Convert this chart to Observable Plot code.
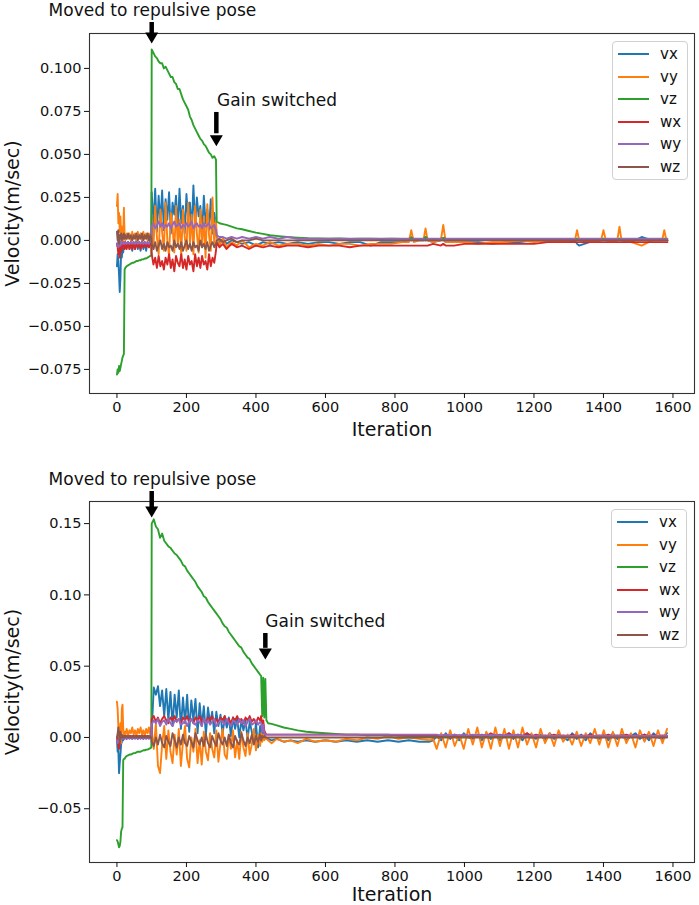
<!DOCTYPE html>
<html>
<head>
<meta charset="utf-8">
<script src="https://cdn.jsdelivr.net/npm/d3@7"></script>
<script src="https://cdn.jsdelivr.net/npm/@observablehq/plot@0.6"></script>
<style>
  html, body { margin: 0; padding: 0; background: #fff; overflow: hidden; }
  #wrap { position: relative; width: 699px; height: 905px; font-family: "DejaVu Sans", sans-serif; }
  .legend { position: absolute; border: 1px solid #d0d0d0; border-radius: 4px; background: rgba(255,255,255,0.85); box-sizing: border-box; }
  .legend .row { position: absolute; left: 0; height: 0; }
  .legend .sw { position: absolute; left: 5px; width: 31px; height: 2px; top: -1px; }
  .legend .lb { position: absolute; left: 47px; top: -10px; font-size: 15px; line-height: 20px; color: #111; }
</style>
</head>
<body>
<div id="wrap"></div>
<script>
// ---------- DATA (velocities in units of 0.001 m/sec) ----------
const seriesNames = ["vx", "vy", "vz", "wx", "wy", "wz"];
const seriesColors = ["#1f77b4", "#ff7f0e", "#2ca02c", "#d62728", "#9467bd", "#8c564b"];
const xTicks = [0, 200, 400, 600, 800, 1000, 1200, 1400, 1600];

// Top panel
const itTop = [
0,2,4,6,8,10,12,14,16,18,
20,22,24,28,32,36,40,44,48,52,
56,60,64,68,72,76,80,84,88,92,
96,99,
100,105,110,115,120,125,130,135,140,145,
150,155,160,165,170,175,180,185,190,195,
200,205,210,215,220,225,230,235,240,245,
250,255,260,265,270,275,280,285,
287,295,305,315,330,345,360,380,400,420,
440,465,490,520,550,580,610,640,670,700,
730,760,790,820,840,847,854,870,882,888,
894,910,932,939,946,970,1000,1040,1080,1120,
1160,1200,1240,1280,1310,1318,1324,1330,1360,1393,
1400,1407,1430,1440,1446,1452,1480,1510,1540,1560,
1570,1575,1580,1584];
const vxTop = [
-15,-8,-12,-20,-30,-22,-6,-10,-4,-7,
-2,-5,-1,-4,-1,-5,-1,-6,-1,-5,
0,-5,-1,-6,0,-5,-1,-6,-1,-4,
0,-1,
28,8,30,5,26,10,29,6,24,12,
28,4,22,15,26,6,30,10,20,4,
27,12,22,5,32,8,25,14,20,3,
26,10,18,6,24,4,16,8,
2,-1,1,-2,0,-1,-2,-1,-3,-1,
-2,-1,-2,-1,-2,-1,-1,-2,-1,-1,
-3,-1,-1,-1,0,2,0,0,0,1,
0,-1,0,1,-1,-1,-1,-1,-2,-1,
-1,0,-1,0,-1,0,-2,-3,-1,0,
1,0,0,0,1,0,-1,2,0,0,
0,1,0,0];
const vyTop = [
20,27,10,16,5,14,2,8,-3,4,
19,3,0,4,1,4,0,5,1,4,
0,5,1,4,0,5,1,4,0,4,
2,1,
15,-5,20,2,-8,18,5,-6,22,0,
-9,16,8,-7,20,-3,12,-9,18,2,
-6,22,-2,15,-8,20,4,-7,18,-4,
14,-10,21,3,-6,25,-3,12,
3,-3,1,-4,-1,-3,0,-4,-2,-3,
-1,-3,-2,-2,-3,-2,-3,-2,-2,-3,
-2,-2,-2,-1,-1,6,-1,0,0,7,
0,-1,0,9,-1,-1,-1,-2,-1,-1,
0,-1,0,-1,0,0,6,0,-1,0,
6,0,-1,0,8,0,-1,-3,0,0,
1,6,1,0];
const vzTop = [
-78,-75,-77,-73,-76,-74,-72,-70,-68,-67,
-66,-17,-16,-15,-14.5,-14,-13.5,-13,-13,-12.5,
-12,-12,-11.5,-11.5,-11,-11,-10.5,-10.5,-10,-9.5,
-9,-8.5,
111,109,107,106,104,103,103,100,101,99,
97,95,95,92,91,88,88,85,82,80,
78,76,72,70,67,65,63,61,59,58,
56,55,53,51,50,48,49,47,
11,10,9.5,9,8,7,6.5,5.5,4.5,3.8,
3,2.5,2,1.6,1.3,1.2,1,1.1,0.9,1,
1,0.8,1,0.9,1,1.5,1,0.8,1,2,
1,0.8,1,1.5,1,0.7,0.8,0.6,0.7,0.6,
0.5,0.6,0.5,0.4,0.5,0.5,1,0.5,0.3,0.4,
1,0.4,0.3,0.4,1,0.3,0.2,0.3,0.2,0.3,
0.2,1,0.3,0.2];
const wxTop = [
-2,-4,-8,-3,-10,-5,-2,-6,-1,-3,
-1,-5,-1,-5,-1,-5,-1,-5,-1,-5,
-1,-4,-1,-5,-1,-4,-1,-4,-1,-4,
-1,-2,
-8,-14,-10,-16,-9,-15,-12,-17,-10,-14,
-8,-16,-11,-18,-9,-13,-15,-8,-16,-11,
-17,-9,-14,-12,-18,-8,-15,-10,-16,-9,
-14,-12,-17,-8,-15,-10,-13,-6,
-1,-4,-2,-5,-2,-4,-3,-5,-3,-4,
-3,-4,-3,-3,-4,-3,-3,-3,-4,-3,
-3,-3,-3,-3,-3,-3,-3,-3,-3,-3,
-3,-2,-3,-2,-3,-3,-2,-2,-2,-2,
-2,-2,-1,-1,-1,-1,-1,-1,-1,-1,
-1,-1,-1,-1,-1,-1,-1,-1,-1,-1,
-1,-1,-1,-1];
const wyTop = [
-3,-1,-4,-2,0,-3,-1,-2,-1,-2,
-1,-2,-1,-2,-1,-2,-1,-2,-1,-2,
-1,-2,-1,-2,-1,-2,-1,-2,-1,-2,
-1,-1,
8,10,7,9,11,8,10,7,9,8,
10,7,9,11,8,9,10,7,9,8,
10,8,9,11,7,9,10,8,9,7,
10,8,9,10,7,8,9,6,
3,2,2,1,2,1,2,1,2,1,
2,1,2,1,1,1,1,1,1,1,
1,1,1,1,1,0,1,1,1,0,
1,1,1,0,1,1,1,1,1,1,
1,1,1,1,1,1,0,1,1,1,
0,1,1,1,0,1,1,1,1,1,
1,0,1,1];
const wzTop = [
5,0,6,-2,3,1,4,0,3,1,
4,1,3,1,4,1,3,0,3,1,
4,0,3,1,4,0,3,1,4,0,
3,1,
-2,-5,-1,-6,-3,0,-5,-2,-6,-1,
-4,-3,-6,0,-4,-2,-5,-1,-6,-3,
0,-5,-2,-6,-1,-4,-3,-6,0,-4,
-2,-5,-1,-6,-3,-1,-4,-2,
0,1,-1,0,1,-1,0,0,1,0,
0,0,0,0,0,0,0,0,0,0,
0,0,0,0,0,0,0,0,0,0,
0,0,0,0,0,0,0,0,0,0,
0,0,0,0,0,0,0,0,0,0,
0,0,0,0,0,0,0,0,0,0,
0,0,0,0];
const yTicksTop = [-0.075, -0.050, -0.025, 0, 0.025, 0.050, 0.075, 0.100];

// Bottom panel
const itBot = [
0,2,4,6,8,10,12,14,16,18,
20,22,24,28,32,36,40,44,48,52,
56,60,64,68,72,76,80,84,88,92,
96,99,
100,106,112,118,124,130,136,142,148,154,
160,166,172,178,184,190,196,202,208,214,
220,226,232,238,244,250,256,262,268,274,
280,286,292,298,304,310,316,322,328,334,
340,346,352,358,364,370,376,382,388,394,
400,406,412,415,418,421,424,427,430,
435,445,460,480,500,520,545,570,600,630,
660,690,720,750,780,810,840,870,900,910,
920,933,946,959,972,985,998,1011,1024,1037,
1050,1063,1076,1089,1102,1115,1128,1141,1154,1167,
1180,1193,1206,1219,1232,1245,1258,1271,1284,1297,
1310,1323,1336,1349,1362,1375,1388,1401,1414,1427,
1440,1453,1466,1479,1492,1505,1518,1531,1544,1557,
1570,1583];
const vxBot = [
-2,-10,-8,-25,-18,-12,-5,-3,0,-2,
1,0,1,-1,1,0,1,-1,1,0,
1,-1,1,0,1,-1,1,0,1,0,
1,0,
5,35,30,36,22,33,15,34,12,32,
8,30,14,33,6,28,10,30,4,26,
12,27,3,24,8,22,2,21,10,18,
3,18,8,16,2,15,7,14,1,14,
6,13,0,12,5,12,-1,11,4,-4,
10,-7,8,2,6,1,3,0,-1,
-1,-2,-1,-3,-2,-3,-2,-3,-2,-3,
-2,-3,-2,-3,-2,-3,-2,-3,-3,-2,
1,-2,3,-1,2,-2,3,0,-1,2,
-2,3,-1,2,-2,1,3,-1,2,-2,
3,0,-1,2,-2,3,-1,2,0,-2,
3,-1,2,-2,3,0,-1,2,-2,3,
-1,2,-2,1,3,-1,2,-2,3,0,
-1,3];
const vyBot = [
25,20,8,-3,2,10,-4,20,23,6,
0,4,2,6,1,5,3,7,2,5,
1,6,3,7,2,5,1,6,3,7,
2,3,
5,-8,10,-20,-25,-5,8,-15,5,-10,
-18,2,-12,6,-20,-3,8,-15,-21,0,
-10,6,-18,-2,-19,4,-10,-16,3,-8,
-14,5,-17,-4,6,-12,-15,2,-8,5,
-14,-2,-15,4,-7,-13,3,-12,-5,6,
-9,2,-6,3,-3,2,-2,1,-1,
-2,-4,-1,-3,-2,-4,-1,-3,-2,-3,
-1,-2,0,-1,1,-1,0,-1,-2,-1,
-8,3,-7,5,-6,2,-8,6,-5,7,
-7,4,-8,7,-6,6,-8,5,-7,7,
-5,3,-7,6,-4,3,-6,5,-3,2,
-5,4,-6,3,-4,6,-5,5,-7,4,
-6,6,-4,3,-7,5,-3,4,-6,5,
-4,6];
const vzBot = [
-72,-73,-75,-77,-76,-73,-66,-64,-63,-16,
-15,-15,-14,-13,-12.5,-12,-12,-11.5,-11,-11,
-10.5,-10,-10,-10,-9.5,-9,-9,-8.5,-8.5,-8,
-7.5,-7,
150,153,148,146,140,143,138,136,134,133,
131,129,128,126,124,121,120,117,115,113,
111,109,106,104,102,99,98,95,93,91,
89,87,85,83,80,78,77,74,72,70,
68,66,64,63,60,58,56,55,52,50,
48,46,44,43,15,42,14,41,12,
10,9.5,8.5,7,6,5,4,3.5,3,2.5,
2,2,1.5,1.5,1.5,1.2,1,1,1,1,
1,0.8,1,0.6,0.9,0.7,1,0.6,0.8,0.7,
0.6,0.8,0.5,0.7,0.6,0.5,0.7,0.6,0.5,0.6,
0.5,0.6,0.4,0.6,0.5,0.4,0.5,0.6,0.4,0.5,
0.4,0.5,0.4,0.3,0.5,0.4,0.3,0.4,0.5,0.3,
0.4,0.3,0.4,0.3,0.4,0.3,0.4,0.3,0.4,0.3,
0.4,0.3];
const wxBot = [
0,-3,-5,-8,-4,-1,2,0,1,0,
1,0,1,0,1,0,1,0,1,0,
1,0,1,0,1,0,1,0,1,0,
1,0,
13,15,11,14,10,13,15,12,10,14,
12,15,11,13,10,14,12,15,11,13,
10,14,12,15,11,13,10,14,12,15,
11,13,10,14,12,15,11,13,10,14,
12,15,11,13,10,14,12,15,11,13,
10,14,12,15,8,12,5,3,2,
2,2,2,2,2,2,2,2,2,2,
2,2,2,2,2,1.5,1.5,1.5,1.5,1.5,
1.5,1,2,1,1.5,1,2,1,1.5,1,
2,1,3,1,2,1,3,1,2,1,
3,1,2,1,1.5,1,2,1,1.5,1,
2,1,1.5,1,2,1,1.5,1,2,1,
1.5,1,2,1,1.5,1,2,1,1.5,1,
1.5,1];
const wyBot = [
-2,-4,-3,-1,-3,-1,0,-1,0,-1,
0,-1,0,-1,0,-1,0,-1,0,-1,
0,-1,0,-1,0,-1,0,-1,0,-1,
0,0,
9,12,10,13,8,11,12,9,13,10,
8,12,11,13,9,10,12,8,11,13,
10,9,12,11,8,13,10,12,9,11,
13,8,10,12,11,9,13,10,8,12,
11,9,13,10,12,8,11,13,9,10,
12,9,11,10,4,9,3,2,2,
2,2,2,2,2,2,2,2,2,2,
2,2,2,2,2,2,2,2,2,2,
2,1.5,2,1.5,2,1.5,2,1.5,2,1.5,
1.5,1.5,1.5,1.5,1.5,1.5,1.5,1.5,1.5,1.5,
1,1,1,1,1,1,1,1,1,1,
1,1,1,1,1,1,1,1,1,1,
1,1,1,1,1,1,1,1,1,1,
1,1];
const wzBot = [
0,3,7,2,-3,4,0,2,0,1,
0,1,0,1,0,1,0,1,0,1,
0,1,0,1,0,1,0,1,0,1,
0,0,
-3,-6,0,-5,2,-4,-7,1,-3,-6,
3,-2,-7,0,-5,2,-4,-6,1,-3,
-7,3,-2,-5,0,-6,2,-4,-7,1,
-3,-6,3,-2,-5,0,-6,2,-4,-7,
1,-3,-5,3,-2,-6,0,-4,2,-5,
1,-3,2,-2,1,0,1,0,0,
0,0,0,0,0,0,0,0,0,0,
0,0,0,0,0,0,0,0,0,0,
0,0,0,0,0,0,0,0,0,0,
0,0,0,0,0,0,0,0,0,0,
0,0,0,0,0,0,0,0,0,0,
0,0,0,0,0,0,0,0,0,0,
0,0,0,0,0,0,0,0,0,0,
0,0];
const yTicksBot = [-0.05, 0, 0.05, 0.10, 0.15];

// Annotations (data coordinates: iteration, velocity in m/sec)
const notesTop = [
  {label: "Moved to repulsive pose", it: 102, v: 0.1337, anchor: "middle"},
  {label: "Gain switched", it: 288, v: 0.0814, anchor: "start"}
];
const arrowsTop = [
  {it: 100, from: 0.1267, base: 0.1200, tip: 0.1145},
  {it: 286, from: 0.0744, base: 0.0620, tip: 0.0547}
];
const notesBot = [
  {label: "Moved to repulsive pose", it: 102, v: 0.1809, anchor: "middle"},
  {label: "Gain switched", it: 427, v: 0.0813, anchor: "start"}
];
const arrowsBot = [
  {it: 100, from: 0.1725, base: 0.1610, tip: 0.1543},
  {it: 427, from: 0.0729, base: 0.0625, tip: 0.0547}
];

// ---------- BUILD ----------
function buildRows(its, valsList) {
  return valsList.map((vals, k) => {
    if (vals.length !== its.length) throw new Error(seriesNames[k] + " length " + vals.length + " vs " + its.length);
    return its.map((it, i) => ({it, v: vals[i] / 1000}));
  });
}

const headDown = {
  draw(ctx) {
    ctx.moveTo(-6.5, -11);
    ctx.lineTo(6.5, -11);
    ctx.lineTo(0, 0);
    ctx.closePath();
  }
};

function panel({its, vals, yDomain, yTicks, yFmt, height, marginTop, marginBottom, notes, arrows, labelDy}) {
  const rows = buildRows(its, vals);
  const font = "DejaVu Sans";
  return Plot.plot({
    width: 699,
    height,
    marginLeft: 89,
    marginRight: 5,
    marginTop,
    marginBottom,
    style: {fontFamily: font, fontSize: "14.5px", color: "#111", background: "#fff"},
    x: {domain: [-79, 1662], label: null},
    y: {domain: yDomain, label: null},
    marks: [
      ...rows.map((r, k) => Plot.line(r, {x: "it", y: "v", stroke: seriesColors[k], strokeWidth: 1.9})),
      Plot.frame({stroke: "#333", strokeWidth: 1.1}),
      Plot.axisX({ticks: xTicks, tickFormat: d3.format("d"), tickSize: 5, tickPadding: 3, label: null}),
      Plot.axisY({ticks: yTicks, tickFormat: d3.format(yFmt), tickSize: 5, tickPadding: 3, label: null}),
      Plot.text(["Iteration"], {text: d => d, frameAnchor: "bottom", lineAnchor: "middle", dy: labelDy, fontSize: 19}),
      Plot.text(["Velocity(m/sec)"], {text: d => d, frameAnchor: "left", lineAnchor: "middle", textAnchor: "middle", rotate: -90, dx: -77, fontSize: 19}),
      Plot.ruleX(arrows, {x: "it", y1: "from", y2: "base", stroke: "black", strokeWidth: 4.5}),
      Plot.dot(arrows, {x: "it", y: "tip", symbol: headDown, fill: "black", stroke: "none", r: 6}),
      ...notes.map(n => Plot.text([n], {x: "it", y: "v", text: "label", textAnchor: n.anchor, fontSize: 17, fill: "#111"}))
    ]
  });
}

function legend(left, top) {
  const box = document.createElement("div");
  box.className = "legend";
  box.style.left = left + "px";
  box.style.top = top + "px";
  box.style.width = "76px";
  box.style.height = "139px";
  seriesNames.forEach((name, i) => {
    const row = document.createElement("div");
    row.className = "row";
    row.style.top = (12 + 22.5 * i) + "px";
    const sw = document.createElement("div");
    sw.className = "sw";
    sw.style.background = seriesColors[i];
    const lb = document.createElement("div");
    lb.className = "lb";
    lb.textContent = name;
    row.appendChild(sw);
    row.appendChild(lb);
    box.appendChild(row);
  });
  return box;
}

const wrap = document.getElementById("wrap");
wrap.appendChild(panel({
  its: itTop, vals: [vxTop, vyTop, vzTop, wxTop, wyTop, wzTop],
  yDomain: [-0.0890, 0.1203], yTicks: yTicksTop, yFmt: ".3f",
  height: 452, marginTop: 33, marginBottom: 59, notes: notesTop, arrows: arrowsTop, labelDy: 36
}));
wrap.appendChild(panel({
  its: itBot, vals: [vxBot, vyBot, vzBot, wxBot, wyBot, wzBot],
  yDomain: [-0.0877, 0.1655], yTicks: yTicksBot, yFmt: ".2f",
  height: 453, marginTop: 49, marginBottom: 43, notes: notesBot, arrows: arrowsBot, labelDy: 32
}));
wrap.appendChild(legend(612, 41));
wrap.appendChild(legend(611, 509));
</script>
</body>
</html>
